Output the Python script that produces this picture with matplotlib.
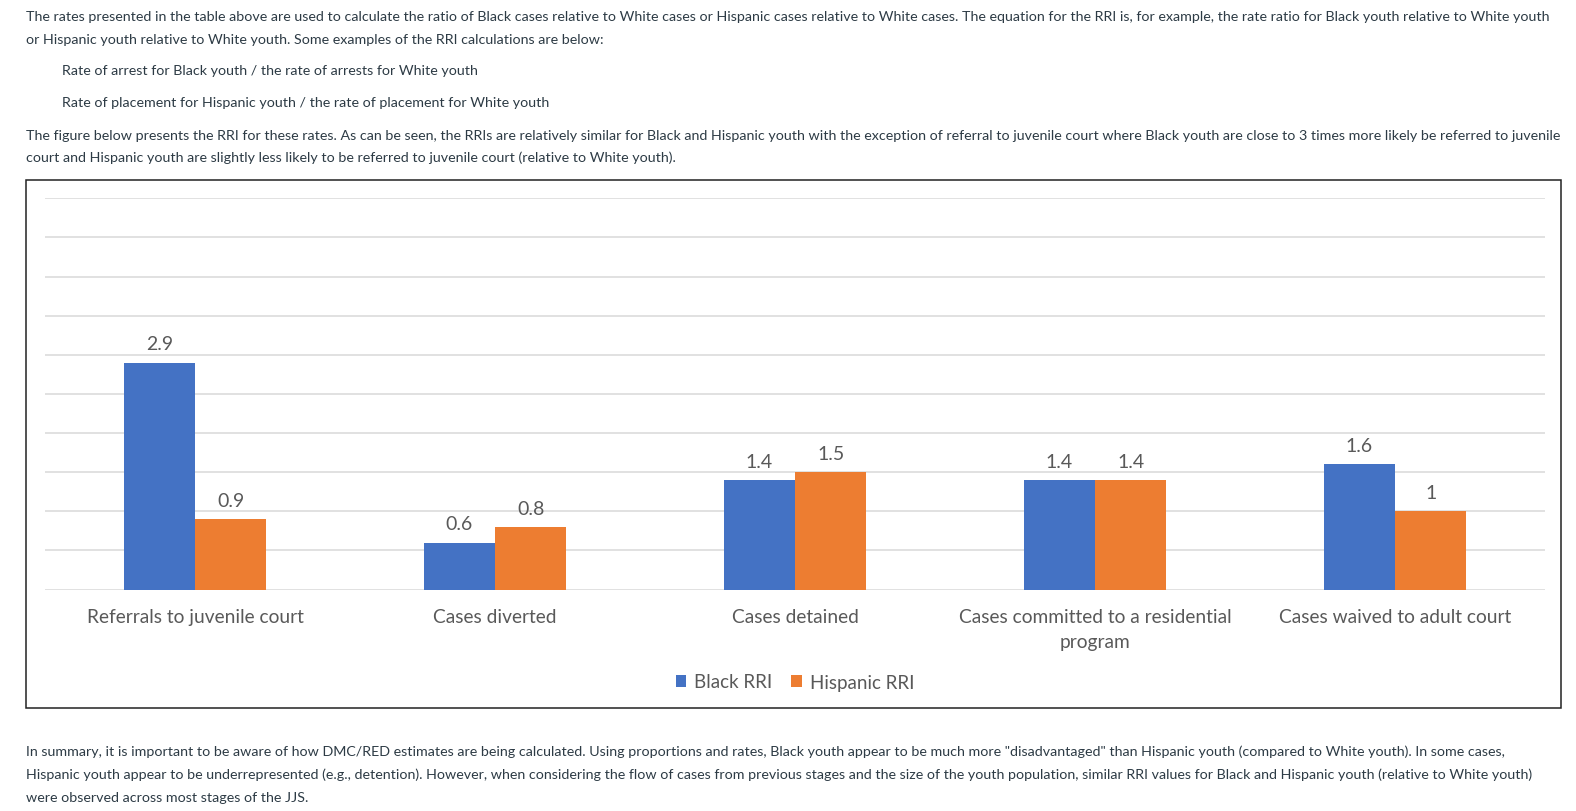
import matplotlib.pyplot as plt
from matplotlib.patches import Rectangle
import numpy as np

# chart data
categories = ["Referrals to juvenile court", "Cases diverted", "Cases detained",
              "Cases committed to a residential\nprogram", "Cases waived to adult court"]
black_rri = [2.9, 0.6, 1.4, 1.4, 1.6]
hispanic_rri = [0.9, 0.8, 1.5, 1.4, 1.0]
black_labels = ["2.9", "0.6", "1.4", "1.4", "1.6"]
hispanic_labels = ["0.9", "0.8", "1.5", "1.4", "1"]

# page text around the chart
top_lines = [
    "The rates presented in the table above are used to calculate the ratio of Black cases relative to White cases or Hispanic cases relative to White cases. The equation for the RRI is, for example, the rate ratio for Black youth relative to White youth",
    "or Hispanic youth relative to White youth. Some examples of the RRI calculations are below:",
]
example_lines = [
    "Rate of arrest for Black youth / the rate of arrests for White youth",
    "Rate of placement for Hispanic youth / the rate of placement for White youth",
]
figure_lines = [
    "The figure below presents the RRI for these rates. As can be seen, the RRIs are relatively similar for Black and Hispanic youth with the exception of referral to juvenile court where Black youth are close to 3 times more likely be referred to juvenile",
    "court and Hispanic youth are slightly less likely to be referred to juvenile court (relative to White youth).",
]
bottom_lines = [
    "In summary, it is important to be aware of how DMC/RED estimates are being calculated. Using proportions and rates, Black youth appear to be much more \"disadvantaged\" than Hispanic youth (compared to White youth). In some cases,",
    "Hispanic youth appear to be underrepresented (e.g., detention). However, when considering the flow of cases from previous stages and the size of the youth population, similar RRI values for Black and Hispanic youth (relative to White youth)",
    "were observed across most stages of the JJS.",
]

W, H = 1576, 812
fig = plt.figure(figsize=(W / 100, H / 100), dpi=100)
fig.patch.set_facecolor("white")

txt_color = "#2d3b45"
pfont = "Lato"
psize = 10.28


def px(x, y):
    return x / W, 1 - y / H


for line, y in zip(top_lines, [17, 40]):
    fig.text(*px(26, y), line, fontsize=psize, family=pfont, color=txt_color, va="center")
for line, y in zip(example_lines, [71, 103]):
    fig.text(*px(62, y), line, fontsize=psize, family=pfont, color=txt_color, va="center")
for line, y in zip(figure_lines, [136, 158]):
    fig.text(*px(26, y), line, fontsize=psize, family=pfont, color=txt_color, va="center")
for line, y in zip(bottom_lines, [752, 775, 798]):
    fig.text(*px(26, y), line, fontsize=psize, family=pfont, color=txt_color, va="center")

# chart border
x0, y0 = px(26, 709)
x1, y1 = px(1561, 181)
fig.patches.append(Rectangle((x0, y0), x1 - x0, y1 - y0, transform=fig.transFigure,
                             fill=False, edgecolor="#222222", linewidth=1.1))

ax = fig.add_axes([45 / W, 1 - 590.5 / H, 1500 / W, (590.5 - 199.3) / H])
x = np.arange(len(categories))
bw = 0.238
blue, orange = "#4472c4", "#ed7d31"
b1 = ax.bar(x - bw / 2, black_rri, bw, color=blue, label="Black RRI", zorder=3)
b2 = ax.bar(x + bw / 2, hispanic_rri, bw, color=orange, label="Hispanic RRI", zorder=3)

cfont = "Lato"
lab_color = "#595959"
for bars, labs in [(b1, black_labels), (b2, hispanic_labels)]:
    for r, s in zip(bars, labs):
        ax.annotate(s, (r.get_x() + r.get_width() / 2, r.get_height()),
                    xytext=(0, 13.5), textcoords="offset points", ha="center", va="center",
                    fontsize=14, family=cfont, color=lab_color)

ax.set_xlim(-0.5, len(categories) - 0.5)
ax.set_ylim(0, 5)
ax.set_yticks(np.arange(0, 5.01, 0.5))
ax.yaxis.grid(True, color="#d9d9d9", linewidth=1.1, zorder=0)
ax.set_axisbelow(True)
ax.tick_params(axis="y", left=False, labelleft=False)
ax.set_xticks(x)
ax.set_xticklabels(categories, fontsize=13.8, family=cfont, color=lab_color, linespacing=1.6)
ax.tick_params(axis="x", length=0, pad=13)
for s in ax.spines.values():
    s.set_visible(False)

leg = fig.legend(handles=[b1, b2], loc="center", bbox_to_anchor=px(795, 683),
                 ncol=2, frameon=False, handlelength=0.55, handleheight=0.55,
                 handletextpad=0.45, columnspacing=1.0,
                 prop={"family": cfont, "size": 13.5})
for t in leg.get_texts():
    t.set_color(lab_color)

fig.savefig("out.png", dpi=100, facecolor="white")
